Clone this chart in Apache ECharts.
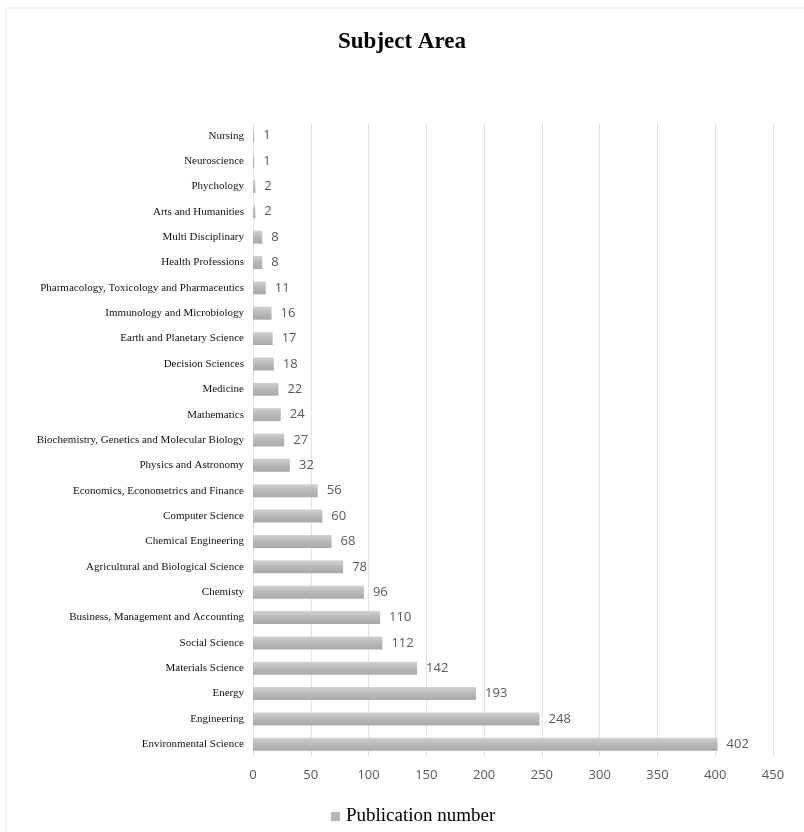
<!DOCTYPE html>
<html><head><meta charset="utf-8">
<script src="https://cdn.jsdelivr.net/npm/echarts@6/dist/echarts.min.js"></script>
<style>html,body{margin:0;padding:0;background:#fff}#c{width:804px;height:832px}</style>
</head><body><div id="c"></div>
<script>
var categories = ["Environmental Science","Engineering","Energy","Materials Science","Social Science","Business, Management and Accounting","Chemisty","Agricultural and Biological Science","Chemical Engineering","Computer Science","Economics, Econometrics and Finance","Physics and Astronomy","Biochemistry, Genetics and Molecular Biology","Mathematics","Medicine","Decision Sciences","Earth and Planetary Science","Immunology and Microbiology","Pharmacology, Toxicology and Pharmaceutics","Health Professions","Multi Disciplinary","Arts and Humanities","Phychology","Neuroscience","Nursing"];
var publications = [402,248,193,142,112,110,96,78,68,60,56,32,27,24,22,18,17,16,11,8,8,2,2,1,1];
var xTicks = {min:0,max:450,interval:50};
var seriesName = "Publication number";
var chart = echarts.init(document.getElementById('c'));
var grad = new echarts.graphic.LinearGradient(0,0,0,1,[{offset:0,color:'#d2d2d2'},{offset:0.45,color:'#bababa'},{offset:1,color:'#a9a9a9'}]);
chart.setOption({
  animation:false,
  backgroundColor:'#fff',
  graphic:[{type:'rect',shape:{x:6,y:8,width:820,height:840},style:{fill:'none',stroke:'#e2e2e2',lineWidth:1},z:-1}],
  title:{text:'Subject Area',left:'center',top:26,textStyle:{fontFamily:'Liberation Serif',fontWeight:'bold',fontSize:23,color:'#000'}},
  legend:{data:[seriesName],top:802,left:326,icon:'rect',itemWidth:9,itemHeight:9,itemGap:4,textStyle:{fontFamily:'Liberation Serif',fontSize:19,color:'#000',padding:[0,0,0,1]},itemStyle:{color:'#b5b5b5'}},
  grid:{left:253,right:31,top:123,bottom:75,containLabel:false},
  xAxis:{type:'value',min:xTicks.min,max:xTicks.max,interval:xTicks.interval,
    axisLine:{show:false},axisTick:{show:false},
    splitLine:{lineStyle:{color:'#e3e3e3',width:1}},
    axisLabel:{color:'#595959',fontFamily:'Open Sans',fontSize:13,margin:12}},
  yAxis:{type:'category',data:categories,
    axisLine:{show:true,lineStyle:{color:'#e3e3e3'}},axisTick:{show:false},
    axisLabel:{color:'#111',fontFamily:'Liberation Serif',fontSize:11,margin:9}},
  series:[{name:seriesName,type:'bar',data:publications,barWidth:13,
    itemStyle:{color:grad},
    label:{show:true,position:'right',distance:9,color:'#595959',fontFamily:'Open Sans',fontSize:13}}]
});
</script></body></html>
